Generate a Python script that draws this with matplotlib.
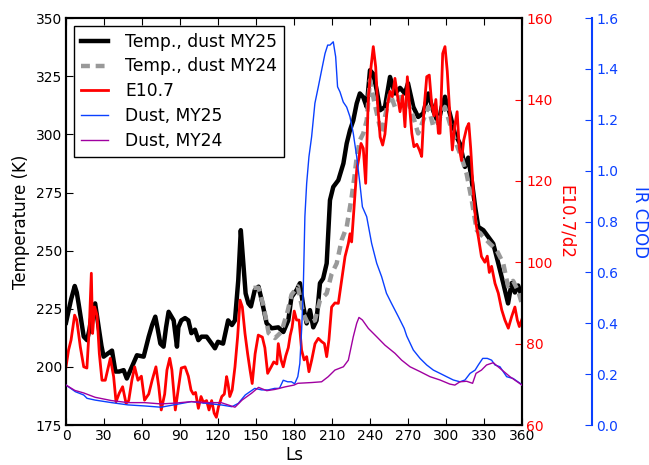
import numpy as np
import matplotlib
matplotlib.use('Agg')
import matplotlib.pyplot as plt

# surface temperature, dust year MY25
ls_t25 = [0, 2, 4, 6.9, 8.5, 10, 12, 14, 16.6, 18.5, 20, 23, 25.8, 28, 29.7, 33.7, 36.3, 39, 42,
          45.5, 48, 52, 56, 61.3, 65.3, 68, 70.5, 72.5, 74.5, 77, 79, 81, 85, 87.6, 88.7, 91, 94,
          96.6, 99, 101.8, 104.5, 107, 111, 115, 117.6, 120, 124, 128, 131, 133.4, 136, 138, 140,
          141.8, 144, 146, 149, 152, 154.5, 158.4, 162.4, 167.6, 171.6, 175.5, 178, 182, 184.7,
          187.3, 190, 192.6, 195.2, 197.8, 200.5, 203, 205.8, 208.4, 211, 215, 219, 221.6, 224.2,
          226.8, 229.5, 232, 234.7, 237.4, 240, 242.6, 245.3, 248, 251.8, 255.8, 259.7, 263.7,
          267.6, 270, 274.2, 278, 282, 286, 290, 294, 296.6, 299.2, 303, 307, 311, 315, 317.6,
          320.3, 323, 325.5, 329.5, 333.4, 337.3, 341.3, 345.2, 349, 351.8, 354.4, 357, 360]
t25 = [219, 224, 229, 234.8, 232, 227, 220, 213, 211.5, 216, 221.6, 227.3, 217, 209, 204.4, 206,
       207, 198, 198, 198.6, 195, 200, 205, 204.4, 213, 218, 221.6, 216, 210, 208.7, 217, 223.7,
       220, 208.7, 217, 220, 221, 220, 214.5, 216, 211.5, 213, 213, 210, 208, 210.8, 210, 220,
       218, 220, 237.3, 258.8, 244.5, 231.6, 227.3, 226, 233, 234.5, 228.7, 218.7, 216.6, 217,
       215, 220, 230, 233, 236, 226, 218.7, 224.4, 217, 220, 236, 238, 244.5, 271.7, 277.4,
       280.3, 287.5, 296.1, 301.8, 306, 313.3, 317.6, 316, 311.8, 327.6, 326, 319, 310.4, 311.8,
       324.7, 317.6, 320, 317.6, 322, 311.8, 307.5, 309, 317.6, 310, 304.7, 311.8, 316.2, 309,
       300.4, 296, 286, 290, 280.3, 268.9, 260.2, 258.8, 255.9, 253, 244.5, 236, 227.3, 236,
       232, 235, 230]

# surface temperature, dust year MY24
ls_t24 = [148, 152, 155.8, 160, 165, 170, 175, 178, 183, 187.3, 191, 196.5, 200.5, 205.8, 209.7,
          213.7, 217.6, 221.6, 225.5, 228, 229.5, 232, 234.7, 237.4, 240, 242.6, 246.6, 249.2,
          251.8, 255.8, 259.7, 263.7, 268.7, 274.2, 278, 282, 286, 290, 294, 299.2, 303, 307,
          312.3, 316.3, 320.3, 324.2, 329.5, 334.7, 340, 345.2, 349, 353, 357, 360]
t24 = [234, 234, 226.6, 214.5, 212.4, 215, 224, 231, 234.6, 223, 218.7, 220, 228.7, 231.6, 240,
       244.5, 254.5, 260.2, 273, 283, 290.3, 297.5, 300.4, 306, 323.3, 316, 306, 300.4, 307.5,
       317.6, 311.8, 316, 316, 307.5, 300.4, 306, 311.8, 303.3, 306, 311.8, 304.7, 297.5, 290,
       283, 271.7, 258.8, 255.9, 253, 250.2, 244.5, 234.6, 237, 232.6, 227]

# solar EUV proxy scaled to Mars distance
ls_e = [0, 2, 4, 6.8, 8.5, 11.3, 14, 16.5, 18.4, 20, 21, 22.6, 24.5, 26.3, 28.4, 31, 35, 37.6,
        39.5, 42, 44.7, 47.4, 49.5, 52, 54.2, 56.8, 59.5, 62, 65.3, 68, 71, 73.2, 75.2, 77.9,
        79.7, 81.9, 83.6, 86.3, 88.9, 91, 94, 96.6, 98.7, 100.5, 102.3, 104.5, 106.6, 108.4,
        111, 112.9, 115, 117, 118.7, 120.3, 123, 125, 126.8, 128, 129.3, 131.2, 133.4, 135.5,
        137.4, 139.2, 141.3, 143.4, 145.3, 147, 149.3, 151.8, 155, 157, 159.2, 162, 164, 166.5,
        167.6, 169.8, 171.5, 173.5, 175.5, 177, 178.5, 180.2, 182, 184, 186, 188, 190, 191.8,
        194, 196.6, 199.2, 201.8, 204, 205.8, 207.6, 209.7, 212.3, 215, 217.6, 220.3, 222.9,
        224.2, 225.5, 227.6, 229.5, 231.3, 232.9, 234.7, 236.6, 238.7, 240.8, 242.6, 244.5, 246,
        248, 250, 251.8, 254, 255.8, 257.6, 259.7, 261.8, 263.7, 265.8, 267.6, 269.5, 271, 273,
        274.7, 277, 279, 280.8, 282.6, 284.8, 286.8, 288.7, 290.5, 292, 294, 295.3, 297.4,
        299.2, 301, 303, 305, 307, 308.8, 310.5, 312.3, 314, 316.3, 318, 319.5, 321.5, 323.6,
        325.5, 328, 330.7, 332.6, 334.2, 336, 338.7, 341.3, 344, 346.5, 349.2, 351.8, 354.4,
        356.3, 357.9, 360]
e107 = [74.3, 78.4, 80.9, 87, 85.8, 79.2, 74.3, 74, 84, 97.3, 82.5, 89, 87, 77.6, 71, 71, 76.4,
        71.9, 65.7, 67.8, 69.4, 65.3, 66, 71, 74.3, 71, 72, 66.1, 67.6, 71, 74.3, 69.5, 63.7,
        67.6, 73.5, 76.4, 73.5, 63.7, 69.5, 74, 74.3, 72, 68.6, 67.6, 68, 64.1, 67, 65.6, 66,
        63.7, 66, 62.9, 61.9, 64.4, 67, 67.6, 71.9, 70, 67, 68.6, 74.3, 81.7, 90.7, 89, 82.5,
        77.5, 73.5, 70.2, 77.5, 82.1, 81.6, 79, 72.7, 74.3, 75.5, 75, 80, 76, 74.3, 77, 79, 82,
        84, 88, 85.8, 85.8, 78.4, 76, 76.8, 73.1, 76, 80, 81.3, 80.5, 80, 76.8, 81, 89, 90,
        89.9, 95.6, 101.4, 104.6, 107, 105, 114.5, 122.7, 125.7, 129.2, 128, 119.4, 140.7, 148,
        153, 148, 139, 130.8, 128.8, 131.5, 139, 142, 140.7, 145.2, 140.7, 137, 141, 133.3,
        145.6, 139.2, 131.7, 128.4, 129, 127.6, 126, 137.4, 145.6, 146, 138.9, 136, 140, 131.7,
        131.7, 151.3, 153, 147, 136.6, 127.6, 133.7, 137, 128, 125, 130, 133, 134.1, 128, 117.7,
        109.6, 106.3, 101.4, 100, 101.5, 97.5, 99, 94.8, 92.4, 88.3, 85.8, 83.8, 86.6, 89, 85.8,
        84.2, 86]

# IR column dust optical depth, MY25
ls_d25 = [0, 7.4, 14, 16.6, 23, 36, 49, 62, 75, 86, 99, 111, 122.5, 131, 136, 141.5, 149, 154.5,
          159.5, 164.7, 168.5, 171.5, 175, 178, 180.5, 183, 184.6, 186, 187.3, 188.6, 190, 191.8,
          193.9, 196.5, 199.2, 201.8, 204.5, 206.6, 208.4, 211, 212.9, 214.4, 216.3, 218.9,
          221.6, 224.2, 226.8, 229.5, 232, 234, 237.4, 241.3, 245.3, 249.2, 253, 257, 262.4, 267,
          269, 274.2, 279.5, 284.8, 290, 295.3, 300.5, 305.8, 311, 315, 319, 323, 325.5, 329,
          332.6, 336, 338.7, 342.6, 347.9, 353, 358.5, 360]
dust25 = [0.157, 0.131, 0.118, 0.105, 0.098, 0.088, 0.079, 0.075, 0.07, 0.08, 0.092, 0.085,
          0.079, 0.072, 0.085, 0.118, 0.144, 0.138, 0.138, 0.144, 0.144, 0.176, 0.17, 0.17,
          0.162, 0.19, 0.242, 0.373, 0.53, 0.82, 0.95, 1.055, 1.133, 1.265, 1.33, 1.395, 1.461,
          1.494, 1.494, 1.507, 1.448, 1.33, 1.31, 1.27, 1.25, 1.212, 1.147, 1.055, 0.95, 0.858,
          0.819, 0.714, 0.636, 0.583, 0.518, 0.478, 0.426, 0.38, 0.35, 0.295, 0.262, 0.236,
          0.216, 0.203, 0.19, 0.177, 0.17, 0.177, 0.203, 0.216, 0.236, 0.262, 0.262, 0.255,
          0.236, 0.229, 0.19, 0.183, 0.164, 0.157]

# IR column dust optical depth, MY24
ls_d24 = [0, 7, 14, 23, 36, 49, 62, 75, 86, 99, 111, 122.5, 128, 133.4, 139, 146.5, 152, 158.5,
          165, 173, 180, 183, 194, 201.8, 207, 212.3, 219, 222.9, 226.8, 229.5, 231.3, 234,
          238.7, 245.3, 251.8, 259.7, 265, 271.6, 279.5, 287.4, 295.3, 303, 307, 311, 316.3,
          321, 323.7, 328, 332, 337.3, 342.6, 350.5, 360]
dust24 = [0.157, 0.136, 0.126, 0.109, 0.096, 0.088, 0.088, 0.083, 0.086, 0.092, 0.088, 0.088,
          0.079, 0.07, 0.098, 0.125, 0.148, 0.135, 0.14, 0.15, 0.157, 0.164, 0.167, 0.17, 0.19,
          0.216, 0.229, 0.255, 0.347, 0.4, 0.423, 0.413, 0.38, 0.347, 0.314, 0.282, 0.255,
          0.229, 0.21, 0.19, 0.177, 0.161, 0.157, 0.17, 0.172, 0.164, 0.203, 0.216, 0.236,
          0.245, 0.223, 0.19, 0.157]

blue = '#0a40ff'
purple = '#a000a0'

plt.rcParams['font.family'] = 'DejaVu Sans'
plt.rcParams['font.size'] = 10

fig = plt.figure(figsize=(6.49, 4.65), dpi=100)
ax = fig.add_axes([0.1017, 0.086, 0.7026, 0.875])

l1, = ax.plot(ls_t25, t25, color='k', lw=3.2, label='Temp., dust MY25')
l2, = ax.plot(ls_t24, t24, color='0.6', lw=3.2, dashes=(2, 1.3), label='Temp., dust MY24')
ax.set_xlim(0, 360)
ax.set_ylim(175, 350)
ax.set_xticks(np.arange(0, 361, 30))
ax.set_yticks(np.arange(175, 351, 25))
ax.set_xlabel('Ls', fontsize=12, labelpad=2)
ax.set_ylabel('Temperature (K)', fontsize=12)
ax.tick_params(direction='in', length=5, pad=3, top=True, labelsize=10)

ax2 = ax.twinx()
l3, = ax2.plot(ls_e, e107, color='r', lw=2, label='E10.7')
ax2.set_ylim(60, 160)
ax2.set_yticks(np.arange(60, 161, 20))
ax2.tick_params(axis='y', direction='in', length=5, pad=3, colors='r', labelsize=10)
ax2.set_ylabel('E10.7/d2', color='r', fontsize=12, rotation=270, labelpad=16)

ax3 = ax.twinx()
for side in ['top', 'bottom', 'left']:
    ax3.spines[side].set_visible(False)
ax3.spines['right'].set_position(('axes', 1.1535))
ax3.spines['right'].set_color(blue)
ax3.spines['right'].set_linewidth(1.5)
l4, = ax3.plot(ls_d25, dust25, color=blue, lw=1, label='Dust, MY25')
l5, = ax3.plot(ls_d24, dust24, color=purple, lw=1, label='Dust, MY24')
ax3.set_ylim(0, 1.6)
ax3.set_yticks(np.arange(0, 1.61, 0.2))
ax3.yaxis.set_major_formatter(matplotlib.ticker.FormatStrFormatter('%.1f'))
ax3.tick_params(axis='y', direction='in', length=5, pad=3, colors=blue, labelsize=10)
ax3.set_ylabel('IR CDOD', color=blue, fontsize=12, rotation=270, labelpad=22)

for a in (ax, ax2):
    for s in a.spines.values():
        s.set_linewidth(1.5)

leg = ax3.legend([l1, l2, l3, l4, l5], [l.get_label() for l in (l1, l2, l3, l4, l5)],
                 loc='upper left', fontsize=12.3, fancybox=False, framealpha=1,
                 handlelength=1.6, handletextpad=1.0, labelspacing=0.4,
                 borderaxespad=0.45, bbox_to_anchor=(0, 1), bbox_transform=ax.transAxes)
leg.get_frame().set_edgecolor('k')

fig.savefig('out.png', dpi=100)
